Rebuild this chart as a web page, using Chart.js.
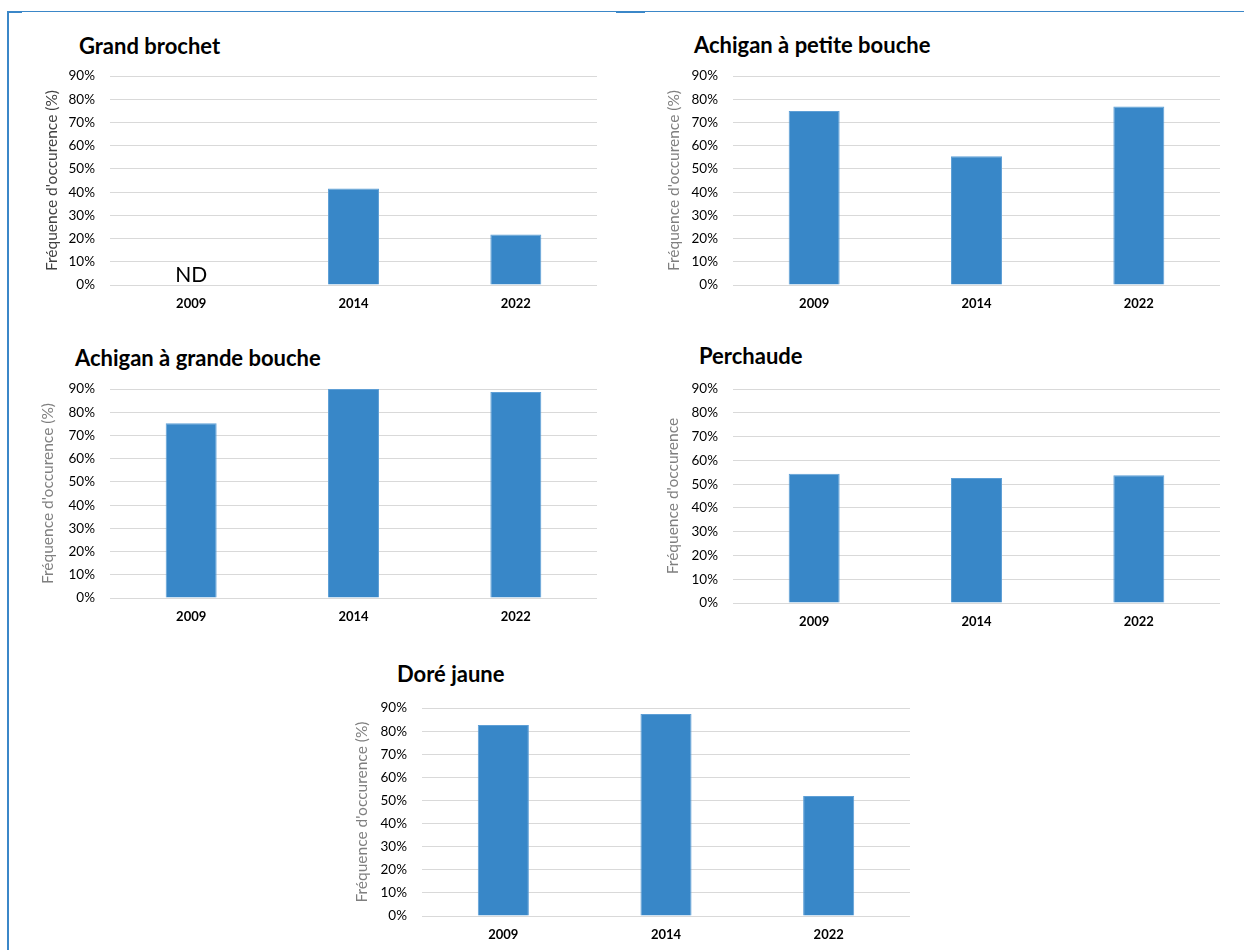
<!DOCTYPE html>
<html lang="fr">
<head>
<meta charset="utf-8">
<title>Fréquence d'occurence</title>
<script src="https://cdn.jsdelivr.net/npm/chart.js@4.4.1/dist/chart.umd.min.js"></script>
<style>
    html, body { margin: 0; padding: 0; background: #ffffff; }
    body { width: 1244px; height: 950px; position: relative; overflow: hidden; font-family: Lato, "Open Sans", sans-serif; }
    .line { position: absolute; background: #3b87c8; }
    .panel { position: absolute; }
    .panel canvas { position: absolute; left: 0; top: 0; }
    .titre { position: absolute; font: bold 22px Lato, sans-serif; color: #000; white-space: nowrap; line-height: 22px; }
</style>
</head>
<body>
<div class="line" style="left:7px;top:11px;width:2px;height:939px"></div>
<div class="line" style="left:7px;top:11px;width:1237px;height:1px"></div>
<div class="line" style="left:7px;top:11px;width:15px;height:2px"></div>
<div class="line" style="left:616px;top:11px;width:29px;height:2px"></div>

<div class="titre" style="left:79px;top:35px">Grand brochet</div>
<div class="titre" style="left:694px;top:34px">Achigan à petite bouche</div>
<div class="titre" style="left:75px;top:347px">Achigan à grande bouche</div>
<div class="titre" style="left:699px;top:345px">Perchaude</div>
<div class="titre" style="left:397px;top:663px">Doré jaune</div>

<div class="panel" id="p1"><canvas id="c1"></canvas></div>
<div class="panel" id="p2"><canvas id="c2"></canvas></div>
<div class="panel" id="p3"><canvas id="c3"></canvas></div>
<div class="panel" id="p4"><canvas id="c4"></canvas></div>
<div class="panel" id="p5"><canvas id="c5"></canvas></div>

<script>
// Données (fréquence d'occurence, %)
const annees = ['2009', '2014', '2022'];
const grandBrochet = [null, 41.6, 21.8];      // 2009 : ND
const achiganPetite = [75.0, 55.5, 76.9];
const achiganGrande = [75.3, 90.0, 88.7];
const perchaude = [54.4, 52.6, 53.8];
const doreJaune = [82.7, 87.4, 51.9];
const yMax = 90;
const yPas = 10;
const etiquetteND = 'ND';

const couleurBarre = '#3887c8';
const couleurBord = '#5e9fd6';

// Texte "ND" pour les valeurs non disponibles
const pluginND = {
    id: 'nd',
    afterDatasetsDraw(chart) {
        const data = chart.data.datasets[0].data;
        const ctx = chart.ctx;
        const x = chart.scales.x;
        const y = chart.scales.y;
        data.forEach((v, i) => {
            if (v !== null) return;
            ctx.save();
            ctx.font = '21px Lato, sans-serif';
            ctx.fillStyle = '#000';
            ctx.textAlign = 'center';
            ctx.textBaseline = 'alphabetic';
            ctx.fillText(etiquetteND, x.getPixelForValue(i), y.getPixelForValue(0) - 3);
            ctx.restore();
        });
    }
};

// Crée un graphique ; zone = [gauche, droite, haut, bas] de la zone de tracé sur la page
function creerGraphique(id, panneauId, valeurs, titreY, couleurTitreY, zone, centreTitreY) {
    const gauche = zone[0] - 70;
    const haut = zone[2] - 22;
    const largeur = zone[1] + 10 - gauche;
    const hauteur = zone[3] + 32 - haut;
    const panneau = document.getElementById(panneauId);
    panneau.style.left = gauche + 'px';
    panneau.style.top = haut + 'px';
    panneau.style.width = largeur + 'px';
    panneau.style.height = hauteur + 'px';

    const lh = 15.5 * 1.2;
    const padTitre = (centreTitreY - gauche) - lh / 2;

    return new Chart(document.getElementById(id).getContext('2d'), {
        type: 'bar',
        data: {
            labels: annees,
            datasets: [{
                data: valeurs,
                backgroundColor: couleurBarre,
                borderColor: couleurBord,
                borderWidth: 1,
                categoryPercentage: 1,
                barPercentage: 0.314
            }]
        },
        options: {
            responsive: true,
            maintainAspectRatio: false,
            animation: false,
            layout: { padding: { top: 12, right: 10, left: 0, bottom: 0 } },
            plugins: {
                legend: { display: false },
                tooltip: { enabled: false }
            },
            scales: {
                x: {
                    grid: { display: false },
                    border: { display: false },
                    ticks: {
                        color: '#000',
                        font: { family: 'Lato', size: 13, weight: 'bold' },
                        padding: 3.5,
                        maxRotation: 0
                    },
                    afterFit: (axe) => { axe.height = 32; }
                },
                y: {
                    min: 0,
                    max: yMax,
                    ticks: {
                        stepSize: yPas,
                        color: '#000',
                        font: { family: 'Lato', size: 13.5 },
                        padding: 15,
                        callback: (v) => v + '%'
                    },
                    grid: { color: '#d9d9d9', lineWidth: 1, drawTicks: false },
                    border: { display: false },
                    title: {
                        display: true,
                        text: titreY,
                        color: couleurTitreY,
                        font: { family: 'Lato', size: 15.5 },
                        padding: { top: padTitre, bottom: 0 }
                    },
                    afterFit: (axe) => { axe.width = 70; }
                }
            }
        },
        plugins: [pluginND]
    });
}

document.addEventListener('DOMContentLoaded', function() {
    Chart.defaults.font.family = 'Lato';
    creerGraphique('c1', 'p1', grandBrochet, "Fréquence d'occurence (%)", '#404040', [110, 597, 75, 285], 52);
    creerGraphique('c2', 'p2', achiganPetite, "Fréquence d'occurence (%)", '#7f7f7f', [733, 1220, 75, 285], 674);
    creerGraphique('c3', 'p3', achiganGrande, "Fréquence d'occurence (%)", '#7f7f7f', [110, 597, 388, 598], 48);
    creerGraphique('c4', 'p4', perchaude, "Fréquence d'occurence", '#7f7f7f', [733, 1220, 388, 603], 673);
    creerGraphique('c5', 'p5', doreJaune, "Fréquence d'occurence (%)", '#7f7f7f', [422, 910, 707, 916], 362);
});
</script>
</body>
</html>
